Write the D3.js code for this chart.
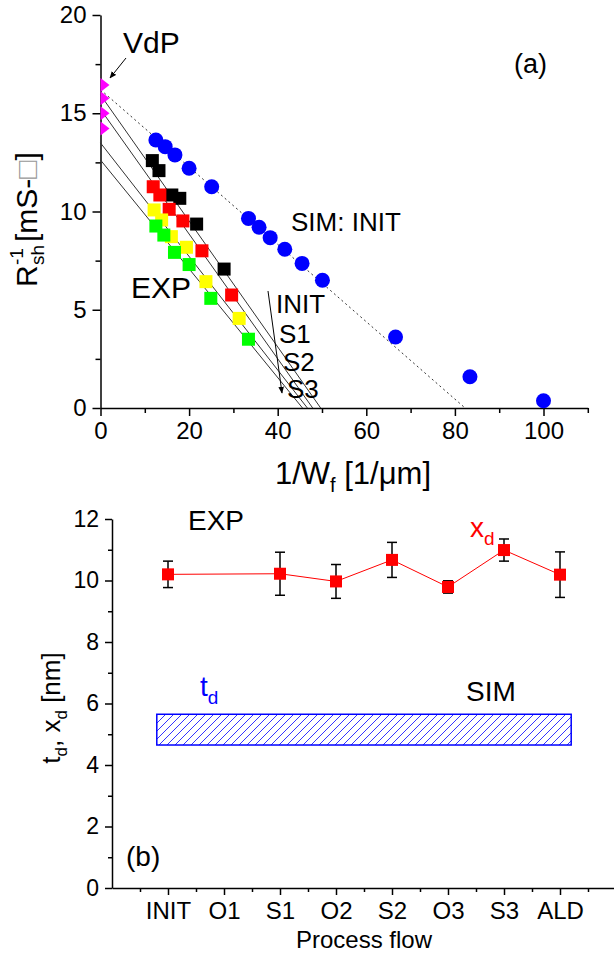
<!DOCTYPE html>
<html>
<head>
<meta charset="utf-8">
<script src="https://cdn.jsdelivr.net/npm/d3@7"></script>
<style>
body { margin: 0; background: #fff; }
svg text { font-family: "Liberation Sans", Arial, sans-serif; }
</style>
</head>
<body>
<div id="chart"></div>
<script>
// ---- panel (a) data ----
const vdpY = [16.44, 15.76, 15.0, 14.23];              // VdP points at 1/Wf = 0

const simX = [12.5, 14.6, 16.8, 20.0, 25.1, 33.4, 35.8, 38.3, 41.6, 45.5, 50.1, 66.6, 83.4, 100];
const simY = [13.64, 13.3, 12.88, 12.2, 11.26, 9.65, 9.2, 8.67, 8.08, 7.36, 6.5, 3.61, 1.59, 0.37];

const initX = [11.7, 13.2, 16.1, 17.9, 21.7, 27.9];
const initY = [12.59, 12.08, 10.84, 10.67, 9.36, 7.07];
const s1X = [11.9, 13.4, 15.5, 18.6, 22.9, 29.6];
const s1Y = [11.26, 10.84, 10.11, 9.52, 8.0, 5.75];
const s2X = [12.1, 13.8, 16.0, 19.4, 23.8, 31.3];
const s2Y = [10.08, 9.57, 8.72, 8.18, 6.43, 4.56];
const s3X = [12.5, 14.3, 16.7, 20.0, 24.9, 33.4];
const s3Y = [9.26, 8.8, 7.92, 7.3, 5.58, 3.5];

// linear fits: intercept on y axis, intercept on x axis
const fitY0 = [15.93, 15.2, 13.49, 12.62];
const fitX0 = [49.7, 47.9, 46.7, 45.6];
const simFit = [16.2, 82.3];

// ---- panel (b) data ----
const catNames = ["INIT", "O1", "S1", "O2", "S2", "O3", "S3", "ALD"];
const xdCats = ["INIT", "S1", "O2", "S2", "O3", "S3", "ALD"];
const xdVals = [10.2, 10.22, 9.97, 10.67, 9.79, 10.99, 10.19];
const xdErr = [0.43, 0.7, 0.55, 0.57, 0.2, 0.36, 0.74];
const tdRange = [4.65, 5.65];      // simulated t_d band
const tdSpan = [0.8, 8.2];         // in category positions

const W = 614, H = 954;
const svg = d3.select("#chart").append("svg")
    .attr("width", W).attr("height", H)
    .style("background", "#fff");

const defs = svg.append("defs");
defs.append("marker")
    .attr("id", "arrow")
    .attr("viewBox", "0 0 10 10")
    .attr("refX", 9).attr("refY", 5)
    .attr("markerWidth", 7).attr("markerHeight", 7)
    .attr("markerUnits", "userSpaceOnUse")
    .attr("orient", "auto")
    .append("path").attr("d", "M0,1 L10,5 L0,9 Z").attr("fill", "#000");

defs.append("pattern")
    .attr("id", "hatch")
    .attr("patternUnits", "userSpaceOnUse")
    .attr("width", 8).attr("height", 8)
    .append("path")
    .attr("d", "M0,8 L8,0 M-1,1 L1,-1 M7,9 L9,7")
    .attr("stroke", "#0000ff").attr("stroke-width", 0.8);

function styleAxis(g, fs) {
    g.select(".domain").attr("stroke", "#000").attr("stroke-width", 1.5);
    g.selectAll(".tick line").attr("stroke", "#000").attr("stroke-width", 1.5);
    g.selectAll(".tick text").attr("fill", "#000")
        .style("font-size", fs + "px")
        .style("font-family", '"Liberation Sans", Arial, sans-serif');
}

// ================= panel (a) =================
const xA = d3.scaleLinear().domain([0, 110]).range([100.5, 587.8]);
const yA = d3.scaleLinear().domain([0, 20]).range([408, 15]);

const gA = svg.append("g");

defs.append("clipPath").attr("id", "clipA")
    .append("rect")
    .attr("x", xA(0)).attr("y", yA(20))
    .attr("width", xA(110) - xA(0)).attr("height", yA(0) - yA(20));

// axes
const axXminor = gA.append("g").attr("transform", `translate(0,${yA(0)})`)
    .call(d3.axisBottom(xA).tickValues([10, 30, 50, 70, 90, 110]).tickSize(5).tickFormat(""));
axXminor.select(".domain").remove();
styleAxis(axXminor, 24);
const axX = gA.append("g").attr("transform", `translate(0,${yA(0)})`)
    .call(d3.axisBottom(xA).tickValues([0, 20, 40, 60, 80, 100]).tickSize(8).tickSizeOuter(0).tickPadding(6));
styleAxis(axX, 24);

const axYminor = gA.append("g").attr("transform", `translate(${xA(0)},0)`)
    .call(d3.axisLeft(yA).tickValues([2.5, 7.5, 12.5, 17.5]).tickSize(5).tickFormat(""));
axYminor.select(".domain").remove();
styleAxis(axYminor, 24);
const axY = gA.append("g").attr("transform", `translate(${xA(0)},0)`)
    .call(d3.axisLeft(yA).tickValues([0, 5, 10, 15, 20]).tickSize(8).tickSizeOuter(0).tickPadding(6));
styleAxis(axY, 24);

const line = d3.line().x(d => xA(d[0])).y(d => yA(d[1]));

// fit lines
gA.append("g").selectAll("path")
    .data(fitY0.map((y0, i) => [[0, y0], [fitX0[i], 0]]))
    .join("path")
    .attr("d", line)
    .attr("fill", "none").attr("stroke", "#333").attr("stroke-width", 1);

gA.append("path")
    .attr("d", line([[0, simFit[0]], [simFit[1], 0]]))
    .attr("fill", "none").attr("stroke", "#333")
    .attr("stroke-width", 1).attr("stroke-dasharray", "2,3");

// experimental squares
const sq = 13;
const expSets = [
    {x: initX, y: initY, c: "#000000"},
    {x: s1X, y: s1Y, c: "#ff0000"},
    {x: s2X, y: s2Y, c: "#ffff00"},
    {x: s3X, y: s3Y, c: "#00ff00"}
];
expSets.forEach(s => {
    gA.append("g").selectAll("rect")
        .data(s.x.map((x, i) => [x, s.y[i]]))
        .join("rect")
        .attr("x", d => xA(d[0]) - sq / 2)
        .attr("y", d => yA(d[1]) - sq / 2)
        .attr("width", sq).attr("height", sq)
        .attr("fill", s.c);
});

// simulated circles
gA.append("g").selectAll("circle")
    .data(simX.map((x, i) => [x, simY[i]]))
    .join("circle")
    .attr("cx", d => xA(d[0])).attr("cy", d => yA(d[1]))
    .attr("r", 7.5).attr("fill", "#0000ff");

// VdP diamonds (clipped at the axis)
gA.append("g").attr("clip-path", "url(#clipA)")
    .selectAll("path")
    .data(vdpY)
    .join("path")
    .attr("d", d => {
        const cx = xA(0), cy = yA(d);
        return `M${cx - 9},${cy} L${cx},${cy - 7} L${cx + 9},${cy} L${cx},${cy + 7} Z`;
    })
    .attr("fill", "#ff00ff");

// annotations
const txt = (g, x, y, s, fs, fill) => g.append("text")
    .attr("x", x).attr("y", y).text(s)
    .style("font-size", fs + "px").attr("fill", fill || "#000");

txt(gA, 123, 53, "VdP", 30);
gA.append("line").attr("x1", 126).attr("y1", 58).attr("x2", 110).attr("y2", 78)
    .attr("stroke", "#000").attr("stroke-width", 1).attr("marker-end", "url(#arrow)");
txt(gA, 514, 73, "(a)", 27);
txt(gA, 291, 231, "SIM: INIT", 26);
txt(gA, 131, 298, "EXP", 30);
txt(gA, 276, 313, "INIT", 26);
txt(gA, 279, 343, "S1", 26);
txt(gA, 283, 371, "S2", 26);
txt(gA, 287, 398, "S3", 26);
gA.append("line").attr("x1", 268).attr("y1", 291).attr("x2", 282).attr("y2", 393)
    .attr("stroke", "#000").attr("stroke-width", 1).attr("marker-end", "url(#arrow)");

// x title
const xt = gA.append("text").attr("x", 353).attr("y", 484)
    .attr("text-anchor", "middle").style("font-size", "31px");
xt.append("tspan").text("1/W");
xt.append("tspan").attr("dy", 8).style("font-size", "20px").text("f");
xt.append("tspan").attr("dy", -8).text(" [1/\u03bcm]");

// y title
const yt = gA.append("g").attr("transform", "translate(37,212) rotate(-90)");
yt.append("text").attr("x", -75).attr("y", 0).style("font-size", "30px").text("R");
yt.append("text").attr("x", -53).attr("y", -14).style("font-size", "19px").text("-1");
yt.append("text").attr("x", -53).attr("y", 7).style("font-size", "19px").text("sh");
const yt2 = yt.append("text").attr("x", -30).attr("y", 0).style("font-size", "30px");
yt2.append("tspan").text("[mS-");
yt2.append("tspan").attr("fill", "#999").text("\u25a1");
yt2.append("tspan").text("]");

// ================= panel (b) =================
const xB = d3.scaleLinear().domain([0, 9]).range([112, 616]);
const yB = d3.scaleLinear().domain([0, 12]).range([888, 519]);
const gB = svg.append("g");

const bxMinor = gB.append("g").attr("transform", `translate(0,${yB(0)})`)
    .call(d3.axisBottom(xB).tickValues(d3.range(0.5, 9, 1)).tickSize(4).tickFormat(""));
bxMinor.select(".domain").remove();
styleAxis(bxMinor, 24);
const bx = gB.append("g").attr("transform", `translate(0,${yB(0)})`)
    .call(d3.axisBottom(xB).tickValues(d3.range(1, 9)).tickSize(7).tickSizeOuter(0)
        .tickPadding(7).tickFormat(i => catNames[i - 1]));
styleAxis(bx, 24);

const byMinor = gB.append("g").attr("transform", `translate(${xB(0)},0)`)
    .call(d3.axisLeft(yB).tickValues([1, 3, 5, 7, 9, 11]).tickSize(4).tickFormat(""));
byMinor.select(".domain").remove();
styleAxis(byMinor, 23);
const by = gB.append("g").attr("transform", `translate(${xB(0)},0)`)
    .call(d3.axisLeft(yB).tickValues([0, 2, 4, 6, 8, 10, 12]).tickSize(7).tickSizeOuter(0).tickPadding(6));
styleAxis(by, 23);

// t_d band
gB.append("rect")
    .attr("x", xB(tdSpan[0])).attr("y", yB(tdRange[1]))
    .attr("width", xB(tdSpan[1]) - xB(tdSpan[0]))
    .attr("height", yB(tdRange[0]) - yB(tdRange[1]))
    .attr("fill", "url(#hatch)")
    .attr("stroke", "#0000ff").attr("stroke-width", 1.5);

// x_d series
const xdData = xdCats.map((c, i) => ({p: catNames.indexOf(c) + 1, v: xdVals[i], e: xdErr[i]}));
gB.append("path")
    .attr("d", d3.line().x(d => xB(d.p)).y(d => yB(d.v))(xdData))
    .attr("fill", "none").attr("stroke", "#ff0000").attr("stroke-width", 1);

const eb = gB.append("g").selectAll("g").data(xdData).join("g")
    .attr("stroke", "#000").attr("stroke-width", 1.5);
eb.append("line")
    .attr("x1", d => xB(d.p)).attr("x2", d => xB(d.p))
    .attr("y1", d => yB(d.v + d.e)).attr("y2", d => yB(d.v - d.e));
eb.append("line")
    .attr("x1", d => xB(d.p) - 5).attr("x2", d => xB(d.p) + 5)
    .attr("y1", d => yB(d.v + d.e)).attr("y2", d => yB(d.v + d.e));
eb.append("line")
    .attr("x1", d => xB(d.p) - 5).attr("x2", d => xB(d.p) + 5)
    .attr("y1", d => yB(d.v - d.e)).attr("y2", d => yB(d.v - d.e));

gB.append("g").selectAll("rect").data(xdData).join("rect")
    .attr("x", d => xB(d.p) - 6).attr("y", d => yB(d.v) - 6)
    .attr("width", 12).attr("height", 12)
    .attr("fill", "#ff0000");

// labels
txt(gB, 188, 530, "EXP", 28);
const xdl = txt(gB, 470, 537, "x", 28, "#ff0000");
xdl.append("tspan").attr("dy", 8).style("font-size", "19px").text("d");
const tdl = txt(gB, 200, 696, "t", 28, "#0000ff");
tdl.append("tspan").attr("dy", 8).style("font-size", "19px").text("d");
txt(gB, 466, 701, "SIM", 28);
txt(gB, 126, 866, "(b)", 28);

gB.append("text").attr("x", 364).attr("y", 948)
    .attr("text-anchor", "middle").style("font-size", "24px").text("Process flow");

const byt = gB.append("text")
    .attr("transform", "translate(60,708) rotate(-90)")
    .attr("text-anchor", "middle").style("font-size", "26px");
byt.append("tspan").text("t");
byt.append("tspan").attr("dy", 7).style("font-size", "17px").text("d");
byt.append("tspan").attr("dy", -7).text(", x");
byt.append("tspan").attr("dy", 7).style("font-size", "17px").text("d");
byt.append("tspan").attr("dy", -7).text(" [nm]");
</script>
</body>
</html>
